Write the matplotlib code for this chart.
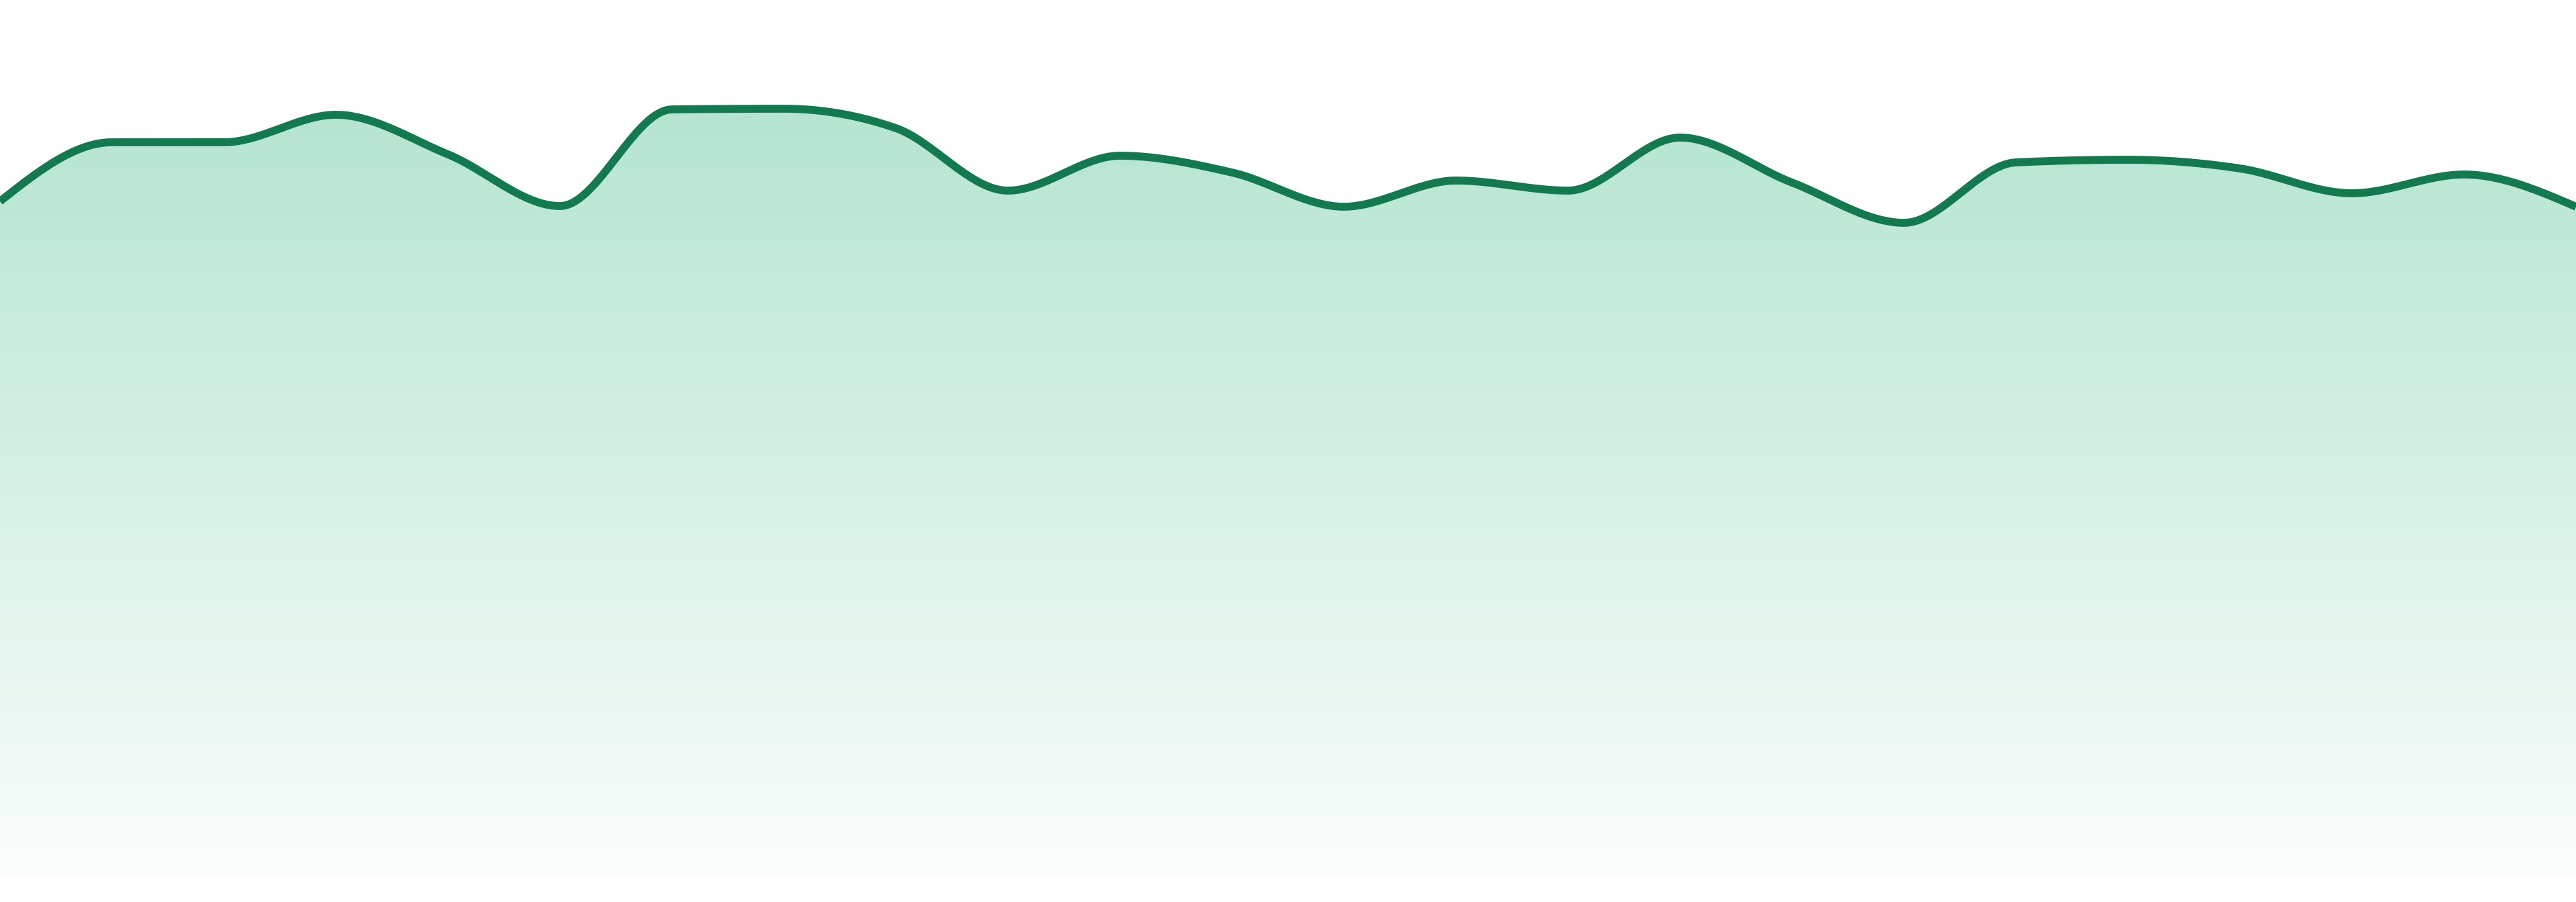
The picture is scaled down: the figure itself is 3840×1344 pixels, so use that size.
import matplotlib
matplotlib.use("Agg")
import matplotlib.pyplot as plt
import numpy as np
from matplotlib.colors import LinearSegmentedColormap

# values, one point per step
steps = list(range(24))
values = [100.5, 109.3, 109.3, 113.4, 107.5, 99.8, 114.2, 114.3,
          111.4, 102.1, 107.3, 104.8, 99.7, 103.6, 102.1, 110.0,
          103.3, 97.3, 106.3, 106.7, 105.4, 101.7, 104.5, 99.7]

line_color = "#137a50"
fill_top = "#b5e5d1"
fill_bottom = "#fbfdfc"


def monotone_x(x, y, n=40):
    # d3 curveMonotoneX style tangents, hermite segments
    x = np.asarray(x, float)
    y = np.asarray(y, float)
    h = np.diff(x)
    s = np.diff(y) / h
    t = np.zeros_like(y)
    for i in range(1, len(y) - 1):
        p = (s[i - 1] * h[i] + s[i] * h[i - 1]) / (h[i - 1] + h[i])
        t[i] = (np.sign(s[i - 1]) + np.sign(s[i])) * min(abs(s[i - 1]), abs(s[i]), 0.5 * abs(p))
    t[0] = (3 * s[0] - t[1]) / 2
    t[-1] = (3 * s[-1] - t[-2]) / 2
    xs, ys = [], []
    for i in range(len(y) - 1):
        u = np.linspace(0, 1, n, endpoint=(i == len(y) - 2))
        h00 = 2 * u**3 - 3 * u**2 + 1
        h10 = u**3 - 2 * u**2 + u
        h01 = -2 * u**3 + 3 * u**2
        h11 = u**3 - u**2
        xs.append(x[i] + u * h[i])
        ys.append(h00 * y[i] + h10 * h[i] * t[i] + h01 * y[i + 1] + h11 * h[i] * t[i + 1])
    return np.concatenate(xs), np.concatenate(ys)


xs, ys = monotone_x(steps, values)

fig = plt.figure(figsize=(38.4, 13.44), dpi=100)
ax = fig.add_axes([0, 39 / 1344, 1, 1 - 39 / 1344])
ax.set_xlim(steps[0], steps[-1])
ax.set_ylim(0, 130.5)
ax.axis("off")

poly = ax.fill_between(xs, 0, ys, color="none", lw=0)
cmap = LinearSegmentedColormap.from_list("g", [fill_bottom, fill_top])
grad = np.linspace(0, 1, 256).reshape(-1, 1)
img = ax.imshow(grad, cmap=cmap, aspect="auto", origin="lower",
                extent=[steps[0], steps[-1], 0, max(ys)], zorder=1)
clip = poly.get_paths()[0]
img.set_clip_path(clip, transform=ax.transData)

ax.plot(xs, ys, color=line_color, lw=8.5, solid_capstyle="butt", zorder=3)

fig.savefig("out.png", dpi=100)
